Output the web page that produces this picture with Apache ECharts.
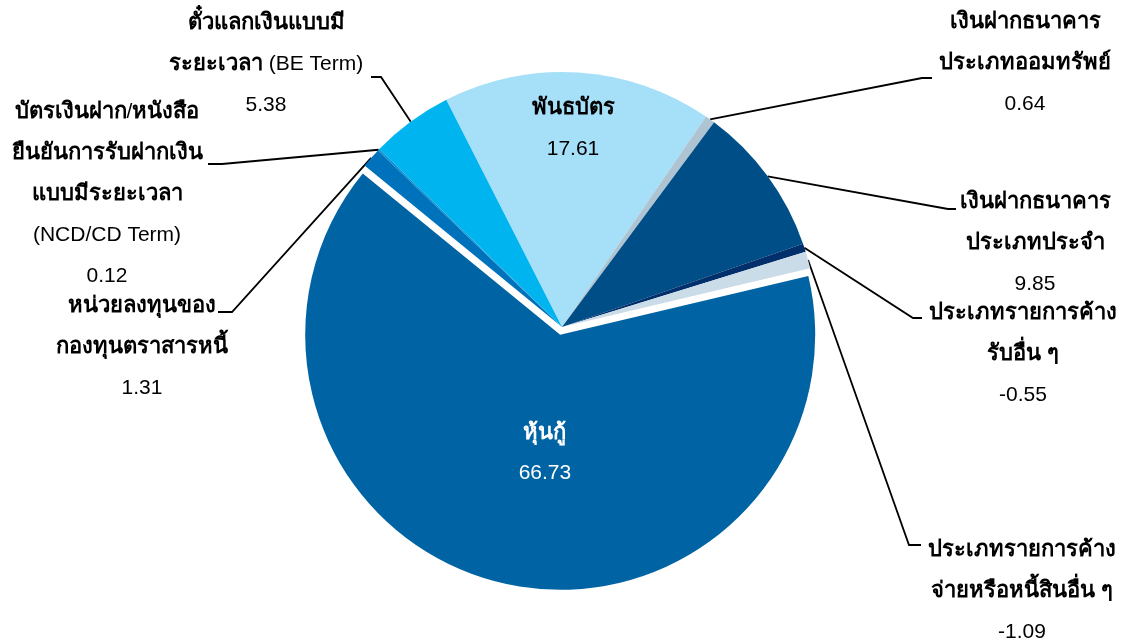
<!DOCTYPE html>
<html>
<head>
<meta charset="utf-8">
<title>สัดส่วนการลงทุน</title>
<script src="https://cdn.jsdelivr.net/npm/echarts@6/dist/echarts.min.js"></script>
<style>
  html, body { margin: 0; padding: 0; background: #fff; }
  #box1 { width: 1125px; height: 640px; }
</style>
</head>
<body>
<div id="box1"></div>
<script>
// ข้อมูลสัดส่วนการลงทุน (ค่าติดลบแสดงตามจริงในป้าย แต่ขนาดชิ้นใช้ค่าสัมบูรณ์)
var names = [
  'พันธบัตร',
  'เงินฝากธนาคาร\nประเภทออมทรัพย์',
  'เงินฝากธนาคาร\nประเภทประจำ',
  'ประเภทรายการค้าง\nรับอื่น ๆ',
  'ประเภทรายการค้าง\nจ่ายหรือหนี้สินอื่น ๆ',
  'หุ้นกู้',
  'หน่วยลงทุนของ\nกองทุนตราสารหนี้',
  'บัตรเงินฝาก/หนังสือ\nยืนยันการรับฝากเงิน\nแบบมีระยะเวลา\n(NCD/CD Term)',
  'ตั๋วแลกเงินแบบมี\nระยะเวลา (BE Term)'
];
var values = [17.61, 0.64, 9.85, -0.55, -1.09, 66.73, 1.31, 0.12, 5.38];
var colors = ['#a6dff8', '#aec4d2', '#004e87', '#002f6c', '#c9dce8', '#0063a3', '#0072bc', '#0a8fd0', '#00b5ef'];

// ตำแหน่งป้าย: [x กลาง, y กลางบรรทัดแรก, จุดหักเส้น x, y, ปลายเส้น x, y]
var labelSpots = [
  [573, 108],
  [1025, 22, 922, 78, 932, 78],
  [1035, 202, 948, 209, 956, 209],
  [1023, 313, 913, 318, 922, 318],
  [1022, 550, 909, 545, 921, 545],
  null, // หุ้นกู้ ใช้ตำแหน่งภายในชิ้นตามปกติ
  [142, 306, 232, 312, 218, 312],
  [107, 112, 222, 164, 208, 164],
  [266, 23, 381, 77, 371, 77]
];
var insideIdx = [0, 5];
var LINE_H = 41;
var FONT = "'Liberation Sans', Arial, sans-serif";

var chart = echarts.init(document.getElementById('box1'));

var pieData = names.map(function (n, i) {
  var inside = insideIdx.indexOf(i) >= 0;
  var item = {
    name: n,
    value: Math.abs(values[i]),
    selected: n === 'หุ้นกู้',
    itemStyle: { color: colors[i] },
    select: { itemStyle: { color: colors[i] } },
    label: { position: inside ? 'inside' : 'outside' },
    labelLine: { show: !inside }
  };
  if (n === 'หุ้นกู้') item.label.padding = [0, 0, 18, 28];
  return item;
});

function richLine(t, w) {
  // ตัวอักษรไทยเป็นตัวหนา ส่วนอักษรละตินเป็นตัวปกติ
  return t.split(/([\u0E00-\u0E7F]+)/).filter(function (s) { return s.length; })
    .map(function (s) {
      var st = /[\u0E00-\u0E7F]/.test(s) ? 't' : 'l';
      return '{' + st + w + '|' + s + '}';
    }).join('');
}

function st(size, bold, color) {
  return { fontSize: size, fontWeight: bold ? 'bold' : 'normal', color: color,
    lineHeight: LINE_H, align: 'center', fontFamily: FONT };
}

var option = {
  backgroundColor: '#fff',
  animation: false,
  series: [{
    type: 'pie',
    center: [562, 327],
    radius: [0, 255],
    startAngle: 117,
    clockwise: true,
    selectedMode: 'single',
    selectedOffset: 8,
    avoidLabelOverlap: false,
    emphasis: { disabled: true },
    select: { itemStyle: { borderWidth: 0 } },
    itemStyle: { borderWidth: 0 },
    label: {
      show: true,
      overflow: 'none',
      fontFamily: FONT,
      formatter: function (p) {
        var w = p.name === 'หุ้นกู้' ? 'w' : '';
        var lines = p.name.split('\n').map(function (t) { return richLine(t, w); });
        lines.push('{v' + w + '|' + values[p.dataIndex].toFixed(2) + '}');
        return lines.join('\n');
      },
      rich: {
        t: st(22, true, '#000'),
        l: st(21, false, '#000'),
        v: st(21, false, '#000'),
        tw: st(22, true, '#fff'),
        lw: st(21, false, '#fff'),
        vw: st(21, false, '#fff')
      }
    },
    labelLine: {
      show: true,
      length: 20,
      length2: 10,
      lineStyle: { color: '#000', width: 1.8 }
    },
    labelLayout: function (p) {
      var s = labelSpots[p.dataIndex];
      if (!s) return { align: 'center', verticalAlign: 'middle' };
      var out = { x: s[0], y: s[1] - LINE_H / 2, align: 'center', verticalAlign: 'top' };
      if (s.length > 2 && p.labelLinePoints) {
        out.labelLinePoints = [p.labelLinePoints[0], [s[2], s[3]], [s[4], s[5]]];
      }
      return out;
    },
    data: pieData
  }]
};

chart.setOption(option);
</script>
</body>
</html>
